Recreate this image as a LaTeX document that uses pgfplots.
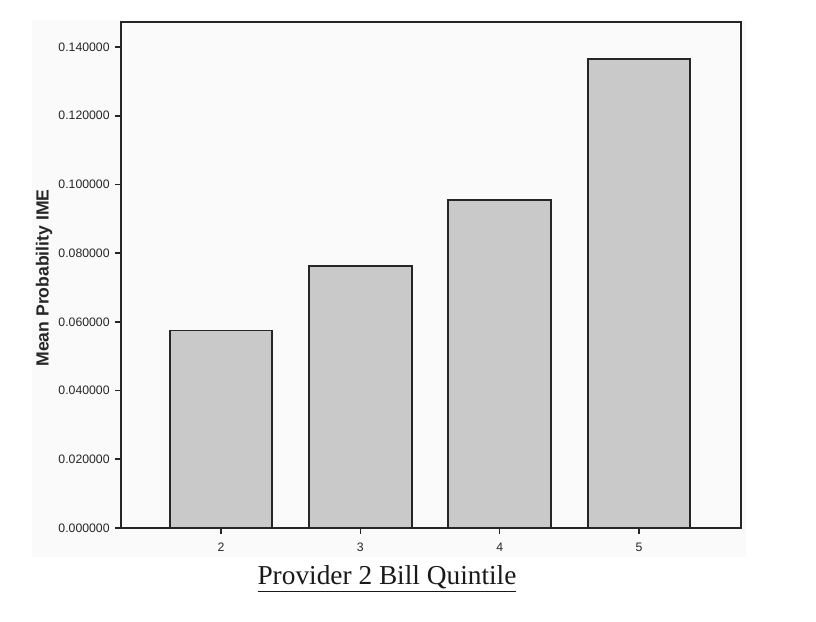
\documentclass[border=0pt]{standalone}
\usepackage{fontspec}
\setmainfont{Liberation Sans}
\newfontfamily\timesfont{Liberation Serif}
\usepackage{pgfplots}
\pgfplotsset{compat=1.18}
\definecolor{barfill}{HTML}{C9C9C9}
\definecolor{panel}{HTML}{FAFAFA}
\begin{document}
\begin{tikzpicture}[x=0.75pt,y=0.75pt]
\useasboundingbox (-121,-93) rectangle (695,528);
\fill[white] (-121,-93) rectangle (695,528);
\fill[panel] (-89,-29) rectangle (625,508);
\begin{axis}[
  at={(0,0)}, anchor=south west,
  scale only axis,
  width=465pt, height=379.5pt,
  xmin=-0.718, xmax=3.732,
  ymin=0, ymax=0.1473,
  ybar, bar width=77pt,
  xtick={0,1,2,3}, xticklabels={2,3,4,5},
  ytick={0,0.02,0.04,0.06,0.08,0.1,0.12,0.14},
  xtick pos=left, ytick pos=left,
  tick align=outside,
  major tick length=4.5pt,
  axis line style={line width=1.2pt, black!85},
  every tick/.style={line width=1.2pt, black!85},
  yticklabel style={xshift=-0.5pt, /pgf/number format/.cd, fixed, fixed zerofill, precision=6, assume math mode=true},
  ticklabel style={font=\fontsize{9.2}{10}\selectfont, black!85},
  xticklabel style={yshift=-3pt},
  scaled y ticks=false,
  axis background/.style={fill=panel},
  ylabel={\bfseries Mean Probability IME},
  ylabel style={at={(rel axis cs:-0.124,0.494)}, anchor=center, rotate=0, font=\fontsize{13.2}{15}\selectfont, black!85},
  clip=false,
]
\addplot[fill=barfill, draw=black!85, line width=1.4pt] coordinates {
  (0,0.0575) (1,0.0763) (2,0.0955) (3,0.1365)
};
\node[anchor=base, font=\timesfont\fontsize{20.5}{24}\selectfont, text=black!90] at (rel axis cs:0.429,-0.1126) {\underline{Provider 2 Bill Quintile}};
\end{axis}
\end{tikzpicture}
\end{document}
